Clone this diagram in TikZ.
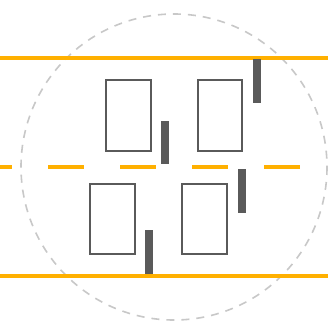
\documentclass[tikz,border=0pt]{standalone}
\definecolor{amber}{HTML}{FFB000}
\definecolor{boxgray}{HTML}{5A5A5A}
\definecolor{ringgray}{HTML}{C8C8C8}
\begin{document}
\begin{tikzpicture}[x=1pt,y=-1pt,
  panel/.style={draw=boxgray,line width=2pt,fill=white,minimum width=44.5pt,minimum height=70.5pt,inner sep=0pt,outer sep=0pt},
  bar/.style={fill=boxgray,draw=none,minimum width=8pt,minimum height=44pt,inner sep=0pt,outer sep=0pt},
  rail/.style={draw=amber,line width=4pt},
  midrail/.style={draw=amber,line width=4pt,dash pattern=on 36pt off 36pt,dash phase=24pt},
  ring/.style={draw=ringgray,line width=1.6pt,dash pattern=on 8pt off 7pt}]
\useasboundingbox (0,0) rectangle (328,321);
\fill[white] (0,0) rectangle (328,321);
\coordinate (c) at (174,167);
\draw[ring] (c) circle[radius=153];
\coordinate (t0) at (0,58); \coordinate (t1) at (328,58);
\coordinate (m0) at (0,167); \coordinate (m1) at (328,167);
\coordinate (b0) at (0,276); \coordinate (b1) at (328,276);
\draw[rail] (t0) -- (t1);
\draw[rail] (b0) -- (b1);
\draw[midrail] (m0) -- (m1);
\node[panel] (tl) at (128.3,115.3) {};
\node[panel] (tr) at (220,115.3) {};
\node[panel] (bl) at (112.3,219) {};
\node[panel] (br) at (204.3,219) {};
\node[bar,minimum height=43pt] (b1n) at (165,142.5) {};
\node[bar] (b2n) at (256.8,81.3) {};
\node[bar,minimum height=43.4pt] (b3n) at (241.5,191) {};
\node[bar] (b4n) at (149.2,252) {};
\end{tikzpicture}
\end{document}
